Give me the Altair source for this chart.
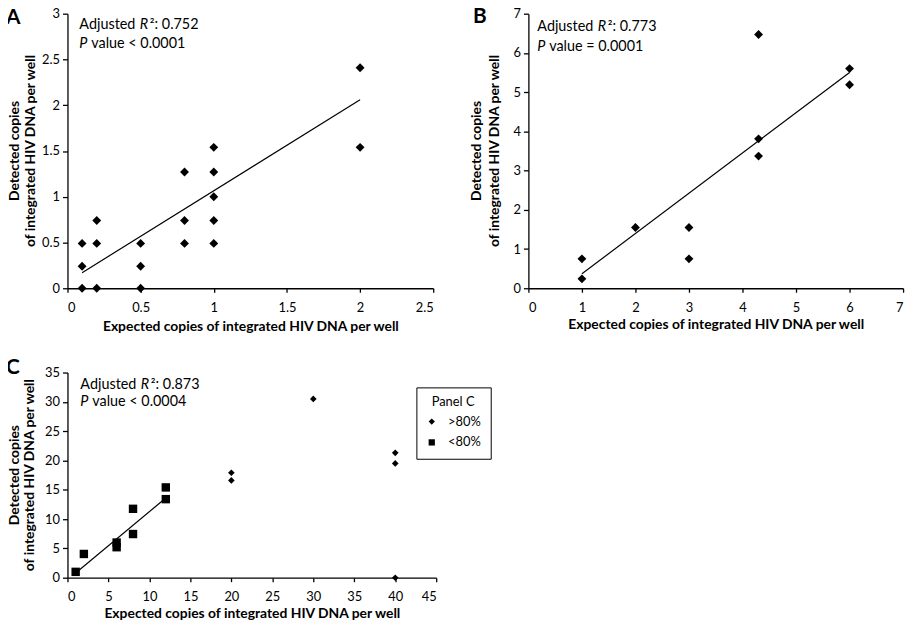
import altair as alt
import pandas as pd

# ---------------- data ----------------
A_x = [0.1, 0.1, 0.1, 0.2, 0.2, 0.2, 0.5, 0.5, 0.5, 0.8, 0.8, 0.8, 1, 1, 1, 1, 1, 2, 2]
A_y = [0.49, 0.24, 0, 0.74, 0.49, 0, 0.49, 0.24, 0, 1.27, 0.74, 0.49, 1.54, 1.27, 1.0, 0.74, 0.49, 2.41, 1.54]
A_line_x = [0.1, 2.0]
A_line_y = [0.17, 2.06]

B_x = [1, 1, 2, 3, 3, 4.3, 4.3, 4.3, 6, 6]
B_y = [0.75, 0.24, 1.55, 1.55, 0.75, 6.47, 3.81, 3.37, 5.6, 5.19]
B_line_x = [1.0, 6.0]
B_line_y = [0.37, 5.5]

C_hi_x = [20, 20, 30, 40, 40, 40]
C_hi_y = [17.9, 16.6, 30.5, 21.3, 19.5, 0]
C_lo_x = [1, 2, 6, 6, 8, 8, 12, 12]
C_lo_y = [1.0, 4.05, 6.0, 5.2, 11.75, 7.45, 15.4, 13.4]
C_line_x = [1.0, 12.0]
C_line_y = [0.8, 13.6]

groups = [">80%", "<80%"]

A_ticks_x = [0, 0.5, 1, 1.5, 2, 2.5]
A_ticks_y = [0, 0.5, 1, 1.5, 2, 2.5, 3]
B_ticks = [0, 1, 2, 3, 4, 5, 6, 7]
C_ticks_x = [0, 5, 10, 15, 20, 25, 30, 35, 40, 45]
C_ticks_y = [0, 5, 10, 15, 20, 25, 30, 35]

annA = ["Adjusted", "R", "\u00b2: 0.752", "P", "value < 0.0001"]
annB = ["Adjusted", "R", "\u00b2: 0.773", "P", "value = 0.0001"]
annC = ["Adjusted", "R", "\u00b2: 0.873", "P", "value < 0.0004"]

XTITLE = "Expected copies of integrated HIV DNA per well"
YTITLE = ["Detected copies", "of integrated HIV DNA per well"]
FONT = "Lato"
one = pd.DataFrame({"k": [0]})


def xenc(ticks, dom, title_y):
    return alt.X("x:Q", scale=alt.Scale(domain=dom, nice=False, zero=False),
                 axis=alt.Axis(values=ticks, format="~g", title=XTITLE, titleY=title_y,
                               titleBaseline="alphabetic", tickSize=4, labelPadding=9))


def yenc(ticks, dom):
    return alt.Y("y:Q", scale=alt.Scale(domain=dom, nice=False, zero=False),
                 axis=alt.Axis(values=ticks, format="~g", title=None,
                               tickSize=5, labelPadding=3))


def txt(s, x, y, size=14.5, italic=False, bold=False, align="left", angle=0, baseline="alphabetic"):
    return alt.Chart(one).mark_text(
        text=s, font=FONT, fontSize=size, align=align, baseline=baseline, angle=angle,
        fontStyle="italic" if italic else "normal",
        fontWeight="bold" if bold else "normal", color="black"
    ).encode(x=alt.value(x), y=alt.value(y))


def ytitle(x1, x2, h):
    return [txt(YTITLE[0], x1, h / 2, size=14, bold=True, align="center", angle=270, baseline="middle"),
            txt(YTITLE[1], x2, h / 2, size=14, bold=True, align="center", angle=270, baseline="middle")]


def annotation(parts, x0, y1, y2, offR=61, offSup=71, offV=12):
    return [
        txt(parts[0], x0, y1),
        txt(parts[1], x0 + offR, y1, italic=True),
        txt(parts[2], x0 + offSup, y1),
        txt(parts[3], x0, y2, italic=True),
        txt(parts[4], x0 + offV, y2),
    ]


# ---------------- panel A ----------------
wA, hA = 369, 277
dfA = pd.DataFrame({"x": A_x, "y": A_y})
lnA = pd.DataFrame({"x": A_line_x, "y": A_line_y})
XA = xenc(A_ticks_x, [0, 2.5], 43)
YA = yenc(A_ticks_y, [0, 3])
ptsA = alt.Chart(dfA).mark_point(shape="diamond", filled=True, color="black", opacity=1, size=80).encode(x=XA, y=YA)
lineA = alt.Chart(lnA).mark_line(color="black", strokeWidth=1.2).encode(x=XA, y=YA)
panelA = alt.layer(lineA, ptsA, txt("A", -62, 10, size=21, bold=True), *ytitle(-53, -36.5, hA),
                   *annotation(annA, 12, 15, 35)).properties(width=wA, height=hA)

# ---------------- panel B ----------------
wB, hB = 378, 277
dfB = pd.DataFrame({"x": B_x, "y": B_y})
lnB = pd.DataFrame({"x": B_line_x, "y": B_line_y})
XB = xenc(B_ticks, [0, 7], 41)
YB = yenc(B_ticks, [0, 7])
ptsB = alt.Chart(dfB).mark_point(shape="diamond", filled=True, color="black", opacity=1, size=80).encode(x=XB, y=YB)
lineB = alt.Chart(lnB).mark_line(color="black", strokeWidth=1.2).encode(x=XB, y=YB)
panelB = alt.layer(lineB, ptsB, txt("B", -56, 9, size=21, bold=True), *ytitle(-52, -34, hB),
                   *annotation(annB, 9, 17, 38)).properties(width=wB, height=hB)

# ---------------- panel C ----------------
wC, hC = 372, 207
rowgap = 85
dfC_hi = pd.DataFrame({"x": C_hi_x, "y": C_hi_y, "g": groups[0]})
dfC_lo = pd.DataFrame({"x": C_lo_x, "y": C_lo_y, "g": groups[1]})
lnC = pd.DataFrame({"x": C_line_x, "y": C_line_y})
XC = xenc(C_ticks_x, [0, 45], 40)
YC = yenc(C_ticks_y, [0, 35])
shapeC = alt.Shape("g:N", scale=alt.Scale(domain=groups, range=["diamond", "square"]),
                   legend=alt.Legend(title="Panel C", orient="none", legendX=352,
                                     legendY=hB + rowgap + 15,
                                     strokeColor="black", padding=9, titleFontWeight="normal",
                                     titleAnchor="middle", titleFont=FONT, titleFontSize=13,
                                     labelFont=FONT, labelFontSize=13, symbolSize=40,
                                     symbolFillColor="black", symbolStrokeColor="black",
                                     rowPadding=7, titlePadding=6, labelOffset=10,
                                     titleColor="black", labelColor="black"))
ptsC_hi = alt.Chart(dfC_hi).mark_point(filled=True, color="black", opacity=1, size=45).encode(x=XC, y=YC, shape=shapeC)
ptsC_lo = alt.Chart(dfC_lo).mark_point(filled=True, color="black", opacity=1, size=72).encode(x=XC, y=YC, shape=shapeC)
lineC = alt.Chart(lnC).mark_line(color="black", strokeWidth=1.2).encode(x=XC, y=YC)
panelC = alt.layer(lineC, ptsC_hi, ptsC_lo, txt("C", -62, 1, size=21, bold=True), *ytitle(-53, -37.5, hC),
                   *annotation(annC, 13, 17, 34)).properties(width=wC, height=hC)

chart = alt.concat(panelA, panelB, panelC, columns=2, spacing={"row": rowgap, "column": 93},
                   bounds="flush", align="each").properties(
    autosize=alt.AutoSizeParams(type="none"),
    padding={"left": 60, "top": 3, "right": 852, "bottom": 618}, background="white"
).configure_view(stroke=None).configure_axis(
    grid=False, domainColor="black", domainWidth=1.3, tickColor="black", tickWidth=1.3,
    labelColor="black", titleColor="black", labelFont=FONT, titleFont=FONT,
    labelFontSize=13, titleFontSize=14, titleFontWeight="bold"
)

chart.save("out.html", embed_options={"renderer": "svg", "actions": False})
